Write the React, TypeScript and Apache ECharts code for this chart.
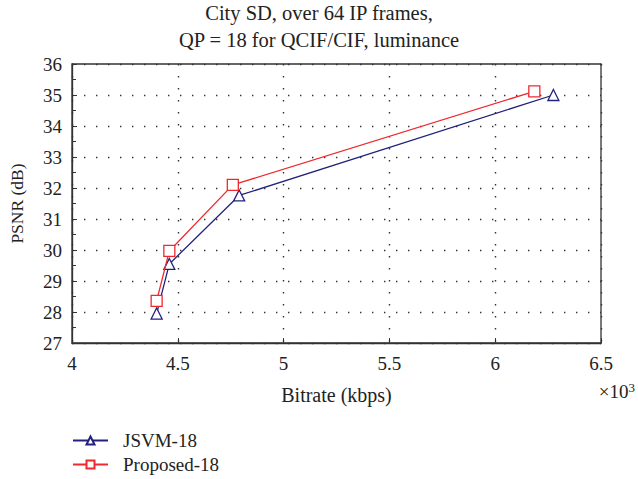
import React, { useEffect, useRef } from "react";
import * as echarts from "echarts";

const titleLines = ["City SD, over 64 IP frames,", "QP = 18 for QCIF/CIF, luminance"];
const xTicks = [4, 4.5, 5, 5.5, 6, 6.5];
const yTicks = [27, 28, 29, 30, 31, 32, 33, 34, 35, 36];
const jsvmBitrate = [4.40, 4.46, 4.79, 6.275];
const jsvmPsnr = [27.95, 29.55, 31.76, 35.0];
const propBitrate = [4.40, 4.46, 4.76, 6.185];
const propPsnr = [28.36, 29.97, 32.1, 35.12];
const seriesNames = ["JSVM-18", "Proposed-18"];

const FONT = '"Liberation Serif", "DejaVu Serif", serif';

export default function App() {
  const ref = useRef<HTMLDivElement>(null);
  useEffect(() => {
    const chart = echarts.init(ref.current!, null, { renderer: "svg" });
    const navy = "#22227e";
    const red = "#ee2a2e";
    const dotted = { color: "#333", type: [1.4, 10.6], width: 1.4 };
    chart.setOption({
      animation: false,
      backgroundColor: "#fff",
      textStyle: { fontFamily: FONT },
      title: {
        text: titleLines.join("\n"),
        left: "center",
        top: -1,
        padding: 0,
        textStyle: { fontFamily: FONT, fontWeight: "normal", fontSize: 20.5, color: "#222", lineHeight: 27 },
      },
      legend: {
        orient: "vertical",
        left: 72,
        top: 431,
        padding: 0,
        height: 48,
        itemWidth: 35,
        itemHeight: 10,
        itemGap: 5,
        textStyle: { fontFamily: FONT, fontSize: 19, color: "#222", padding: [0, 0, 0, 10] },
        data: seriesNames,
      },
      grid: { left: 72, right: 37, top: 64, bottom: 136, show: true, borderColor: "#333", borderWidth: 1.3 },
      xAxis: {
        type: "value",
        min: xTicks[0],
        max: xTicks[xTicks.length - 1],
        interval: 0.5,
        name: "Bitrate (kbps)",
        nameLocation: "middle",
        nameGap: 42,
        nameTextStyle: { fontFamily: FONT, fontSize: 20, color: "#222" },
        axisLine: { show: true, lineStyle: { color: "#333", width: 1.3 } },
        axisTick: { show: true, inside: true, length: 5, lineStyle: { color: "#333" } },
        axisLabel: { fontFamily: FONT, fontSize: 19, color: "#222", margin: 11, formatter: (v: number) => String(v) },
        splitLine: { show: true, lineStyle: dotted },
      },
      yAxis: {
        type: "value",
        min: yTicks[0],
        max: yTicks[yTicks.length - 1],
        interval: 1,
        name: "PSNR (dB)",
        nameLocation: "middle",
        nameGap: 46,
        nameRotate: 90,
        nameTextStyle: { fontFamily: FONT, fontSize: 17.5, color: "#222" },
        axisLine: { show: true, lineStyle: { color: "#333", width: 1.3 } },
        axisTick: { show: true, inside: true, length: 5, lineStyle: { color: "#333" } },
        minorTick: { show: true, splitNumber: 2, length: 4, lineStyle: { color: "#333" } },
        axisLabel: { fontFamily: FONT, fontSize: 19, color: "#222", margin: 10 },
        splitLine: { show: true, lineStyle: dotted },
      },
      graphic: [
        {
          type: "text",
          right: 3,
          top: 381,
          style: {
            text: "×10{s|3}",
            fontFamily: FONT,
            fontSize: 19,
            fill: "#222",
            rich: { s: { fontSize: 13, verticalAlign: "top", fontFamily: FONT, fill: "#222", padding: [0, 0, 8, 0] } },
          },
        },
      ],
      series: [
        {
          name: seriesNames[0],
          type: "line",
          data: jsvmBitrate.map((x, i) => [x, jsvmPsnr[i]]),
          symbol: "triangle",
          symbolSize: 11,
          lineStyle: { color: navy, width: 1.3 },
          itemStyle: { color: "#fff", borderColor: navy, borderWidth: 1.3 },
          z: 3,
        },
        {
          name: seriesNames[1],
          type: "line",
          data: propBitrate.map((x, i) => [x, propPsnr[i]]),
          symbol: "rect",
          symbolSize: 11,
          lineStyle: { color: red, width: 1.3 },
          itemStyle: { color: "#fff", borderColor: red, borderWidth: 1.3 },
          z: 4,
        },
      ],
    });
    return () => chart.dispose();
  }, []);
  return <div ref={ref} style={{ width: 638, height: 479, position: "absolute", left: 0, top: 0 }} />;
}
